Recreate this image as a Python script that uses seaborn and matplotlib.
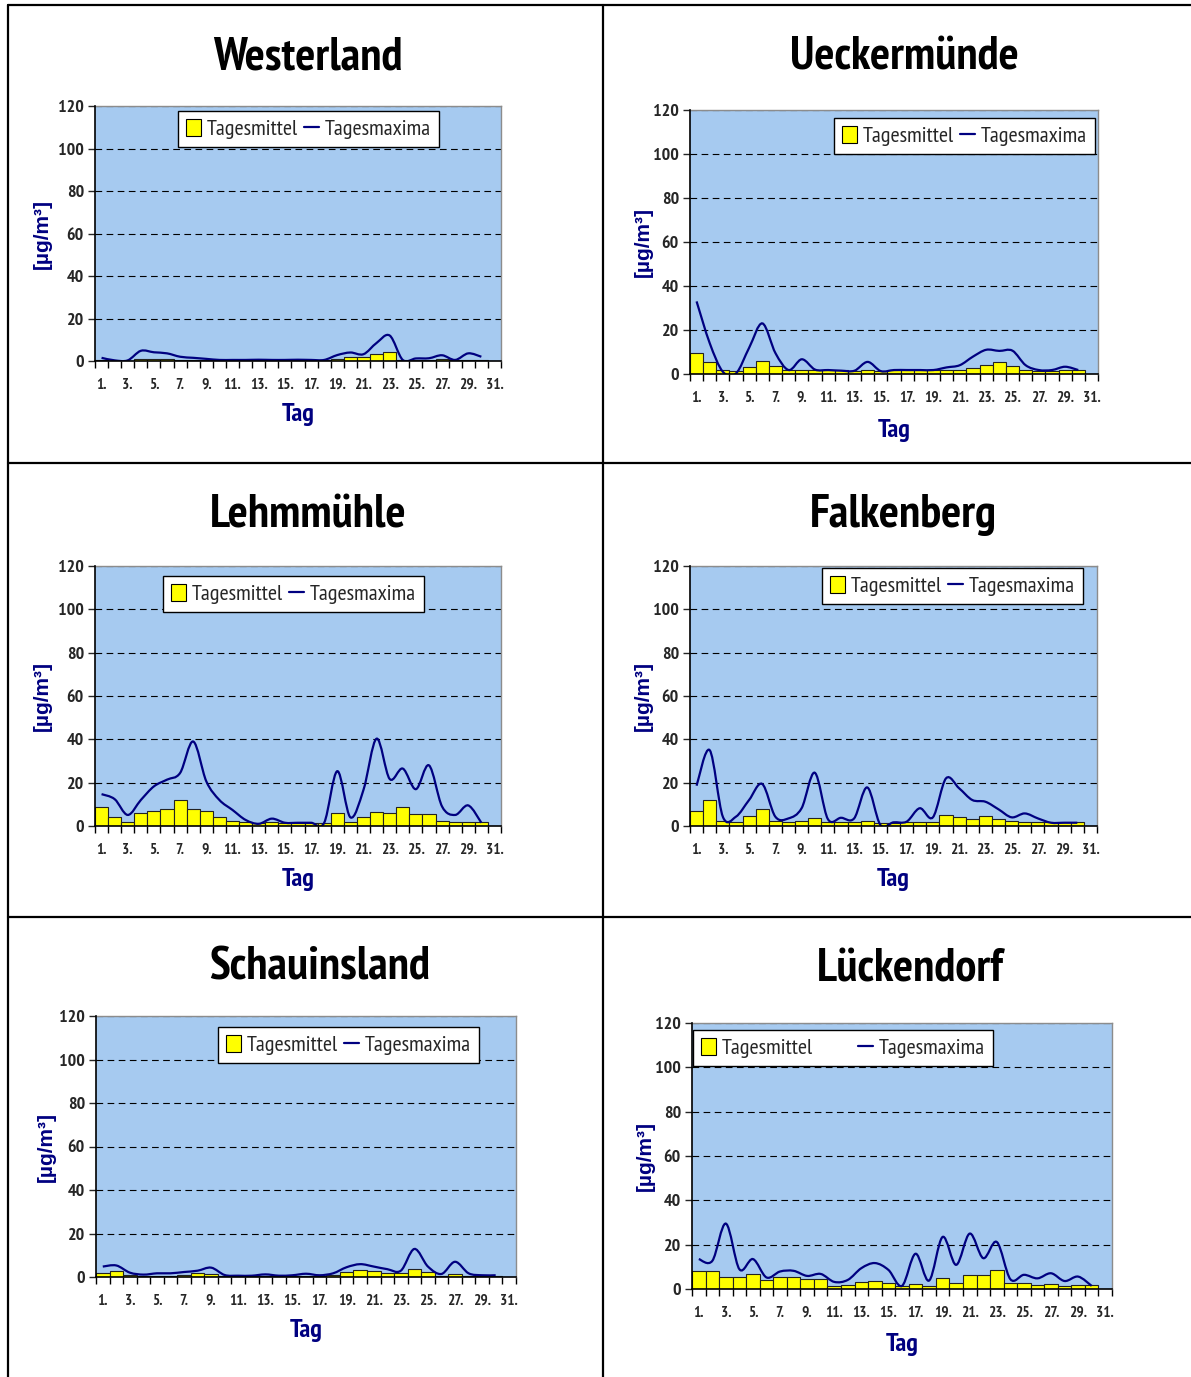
import numpy as np
import seaborn as sns
import matplotlib
matplotlib.use('Agg')
import matplotlib.pyplot as plt
from matplotlib import font_manager
from matplotlib.path import Path
from matplotlib.patches import PathPatch, Patch
from matplotlib.lines import Line2D

# days of the month (31 categories, 30 with data)
tage = [f'{d}.' for d in range(1, 32)]

westerland_mittel = [0.5, 0.2, 0.2, 1, 1, 1, 0.6, 0.6, 0.3, 0.3, 0.3, 0.3, 0.3, 0.3, 0.3,
                     0.3, 0.3, 0.3, 1, 1.7, 1.7, 3.2, 4.1, 0.3, 0.5, 0.5, 0.8, 0.3, 0.5, 0.5]
westerland_maxima = [1.5, 0.3, 0.3, 4.8, 4.1, 3.6, 2, 1.5, 1, 0.5, 0.5, 0.5, 0.6, 0.5, 0.5,
                     0.6, 0.5, 0.5, 2.8, 4, 3.2, 8.5, 12, 0.5, 1.2, 1.3, 2.7, 0.5, 3.6, 2]

ueckermuende_mittel = [9.4, 5.3, 1.8, 1.5, 3, 5.8, 3.6, 2, 1.8, 1.8, 1.8, 1.8, 1.5, 2, 1.5,
                       1.8, 1.8, 1.8, 1.8, 1.8, 1.8, 2.6, 4, 5.3, 3.6, 2, 1.5, 1.5, 1.8, 1.8]
ueckermuende_maxima = [33, 14, 1, 0.3, 12, 23, 9.4, 1.8, 6.7, 2, 1.8, 1.5, 1.5, 5.5, 1.3,
                       1.8, 1.8, 1.8, 1.8, 3, 4, 7.9, 11, 10.5, 10.6, 4, 1.8, 1.8, 3.3, 1.8]

lehmmuehle_mittel = [8.7, 4, 1.7, 5.9, 6.8, 8, 12, 8, 6.8, 4, 2.3, 1.7, 1.2, 2, 1.5,
                     1.5, 1.5, 1.5, 5.9, 1.7, 4.3, 6.4, 5.9, 8.7, 5.7, 5.7, 2.3, 2, 2, 1.7]
lehmmuehle_maxima = [14.7, 12.4, 5.1, 12, 18.3, 21.4, 24.5, 39, 20.6, 12, 7.4, 2.8, 1, 3.4, 1.5,
                     1.5, 1.5, 1.5, 25.3, 4, 16.7, 40.3, 21.7, 26.5, 17, 28, 9, 5.1, 9.5, 1.5]

falkenberg_mittel = [7, 11.8, 2.3, 1.7, 4.5, 7.8, 2.3, 2, 2.3, 3.8, 1.7, 1.7, 1.7, 2.3, 1.5,
                     1.5, 1.8, 2, 2, 5.2, 4, 3, 4.8, 3.4, 2.3, 2, 2, 1.8, 1.8, 1.8]
falkenberg_maxima = [18.6, 35, 4.3, 4.3, 12, 19.4, 4.3, 3.5, 8.2, 24.6, 3.2, 3.8, 3.5, 17.8, 0.5,
                     1.7, 2, 8.2, 4, 22, 17.4, 12, 11.2, 7.7, 4, 5.8, 3.5, 1.5, 1.5, 1.5]

schauinsland_mittel = [2, 2.6, 0.9, 0.6, 0.6, 0.6, 0.9, 2, 1.4, 0.5, 0.5, 0.5, 0.5, 0.5, 0.5,
                       0.5, 0.5, 0.8, 2.5, 3.1, 2.8, 1.9, 1.9, 3.9, 2.5, 0.6, 1.5, 0.6, 0.6, 0.5]
schauinsland_maxima = [4.8, 5.3, 2, 1.1, 1.7, 1.7, 2.3, 2.9, 4.3, 0.9, 0.6, 0.6, 1.2, 0.6, 0.8,
                       1.5, 0.8, 1.7, 4.5, 5.9, 4.8, 3.6, 2.9, 12.9, 4.8, 1.4, 7, 1.7, 0.8, 0.8]

lueckendorf_mittel = [7.9, 7.9, 5.2, 5.6, 6.7, 4.1, 5.6, 5.6, 4.4, 4.4, 1.5, 1.8, 3, 3.5, 2.6,
                      1.4, 2.3, 1.5, 4.8, 2.9, 6.2, 6.2, 8.5, 2.6, 2.6, 1.8, 2.3, 1.5, 2, 1.7]
lueckendorf_maxima = [13.5, 12.7, 29.5, 8.9, 13.5, 5.2, 7.9, 8.2, 5.9, 6.8, 3.2, 4.1, 9.4, 11.7, 8.6,
                      1.4, 15.9, 3.8, 23.5, 10.9, 25, 13.9, 21.2, 4.4, 6.4, 4.8, 7.1, 3.6, 5.6, 1.4]

BG = '#A6CAF0'
NAVY = '#000080'
W, H = 1191, 1377

sns.set_style('ticks')

# pick a narrow Arial-like family that has a real bold face
bold_fams = {f.name for f in font_manager.fontManager.ttflist
             if f.weight >= 700 and f.style == 'normal'}
NARROW = next((n for n in ['Liberation Sans Narrow', 'Arial Narrow', 'Archivo Narrow',
                           'PT Sans Narrow', 'Roboto Condensed', 'Open Sans Condensed',
                           'IBM Plex Sans Condensed', 'Fira Sans Condensed', 'Asap Condensed']
               if n in bold_fams), 'Liberation Sans')
NARROW_FAM = [NARROW, 'DejaVu Sans']
plt.rcParams['font.family'] = ['Liberation Sans', 'DejaVu Sans']

# panel layout in pixels: axes (l, t, r, b), title centre, ylabel x, "Tag" y, legend top-left, column gap
panels = [
    ('Westerland', westerland_mittel, westerland_maxima, (95, 106, 501, 361), (308, 57), 42, 414, (178, 111), 0.25),
    ('Ueckermünde', ueckermuende_mittel, ueckermuende_maxima, (690, 110, 1098, 374), (904, 57), 643, 430, (834, 118), 0.25),
    ('Lehmmühle', lehmmuehle_mittel, lehmmuehle_maxima, (95, 566, 501, 826), (308, 515), 42, 880, (163, 576), 0.25),
    ('Falkenberg', falkenberg_mittel, falkenberg_maxima, (690, 566, 1097, 826), (903, 515), 643, 880, (822, 568), 0.25),
    ('Schauinsland', schauinsland_mittel, schauinsland_maxima, (96, 1016, 516, 1277), (320, 968), 46, 1331, (218, 1027), 0.25),
    ('Lückendorf', lueckendorf_mittel, lueckendorf_maxima, (692, 1023, 1112, 1289), (910, 970), 645, 1344, (693, 1030), 2.0),
]


def smooth_path(y):
    # Excel-like smoothed line: Catmull-Rom segments drawn as cubic Bezier
    pts = np.column_stack([np.arange(len(y)), np.asarray(y, dtype=float)])
    verts = [pts[0]]
    codes = [Path.MOVETO]
    n = len(pts)
    for i in range(n - 1):
        p0 = pts[i - 1] if i > 0 else pts[i]
        p1 = pts[i]
        p2 = pts[i + 1]
        p3 = pts[i + 2] if i + 2 < n else pts[i + 1]
        verts += [p1 + (p2 - p0) / 6, p2 - (p3 - p1) / 6, p2]
        codes += [Path.CURVE4] * 3
    return Path(verts, codes)


fig = plt.figure(figsize=(W / 100, H / 100), dpi=100)

for name, mittel, maxima, (l, t, r, b), (tx, ty), ylx, tagy, (lgx, lgy), colsp in panels:
    ax = fig.add_axes([l / W, 1 - b / H, (r - l) / W, (b - t) / H])
    ax.set_facecolor(BG)
    sns.barplot(x=tage[:len(mittel)], y=mittel, order=tage, color='#FFFF00',
                edgecolor='#222222', linewidth=0.8, width=1.0, saturation=1, ax=ax, zorder=3)
    ax.add_patch(PathPatch(smooth_path(maxima), facecolor='none', edgecolor=NAVY,
                           linewidth=1.6, zorder=4))
    ax.set_xlim(-0.5, 30.5)
    ax.set_ylim(0, 120)
    ax.set_yticks(range(0, 121, 20))
    for yv in range(20, 121, 20):
        ax.axhline(yv, color='black', linewidth=0.8, linestyle=(0, (6, 4)), zorder=1)
    ax.set_xticks(range(0, 31, 2))
    ax.set_xticklabels([tage[i] for i in range(0, 31, 2)])
    ax.set_xticks(np.arange(-0.5, 31, 1), minor=True)
    ax.tick_params(axis='x', which='major', length=0, pad=12)
    ax.tick_params(axis='x', which='minor', length=5, width=1, color='black', direction='out')
    ax.tick_params(axis='y', length=5, width=1, pad=3)
    for lab in ax.get_xticklabels():
        lab.set_fontfamily(NARROW_FAM)
        lab.set_fontweight('bold')
        lab.set_fontsize(11)
    for lab in ax.get_yticklabels():
        lab.set_fontfamily(NARROW_FAM)
        lab.set_fontweight('bold')
        lab.set_fontsize(13)
    ax.set_xlabel('')
    ax.set_ylabel('')
    for side in ('top', 'right'):
        ax.spines[side].set_color('#8C8C8C')
        ax.spines[side].set_linewidth(1)
    for side in ('left', 'bottom'):
        ax.spines[side].set_color('black')
        ax.spines[side].set_linewidth(1.2)
        ax.spines[side].set_zorder(5)

    aw, ah = r - l, b - t
    ax.text((ylx - l) / aw, 0.5, '[µg/m³]', transform=ax.transAxes, rotation=90,
            ha='center', va='center', color=NAVY, fontsize=15, fontweight='bold')
    ax.text(0.5, (b - tagy) / ah, 'Tag', transform=ax.transAxes, ha='center', va='center',
            color=NAVY, fontsize=19, fontweight='bold', family=NARROW_FAM)
    fig.text(tx / W, 1 - ty / H, name, ha='center', va='center', fontsize=34,
             fontweight='bold', color='black', family=NARROW_FAM)

    handles = [Patch(facecolor='#FFFF00', edgecolor='black', linewidth=0.8),
               Line2D([], [], color=NAVY, linewidth=1.6)]
    leg = ax.legend(handles, ['Tagesmittel', 'Tagesmaxima'], ncol=2, loc='upper left',
                    bbox_to_anchor=((lgx - l) / aw, (b - lgy) / ah), borderaxespad=0,
                    frameon=True, fancybox=False, framealpha=1, edgecolor='black',
                    prop={'family': NARROW_FAM, 'size': 16},
                    handlelength=0.7, handleheight=0.8, handletextpad=0.25,
                    columnspacing=colsp, borderpad=0.35)
    leg.get_frame().set_linewidth(1.0)
    leg.set_zorder(6)

# table borders
for (x0, y0, x1, y1) in [(8, 5, 1191, 5), (8, 5, 8, 1377), (603, 5, 603, 1377),
                         (8, 463, 1191, 463), (8, 917, 1191, 917)]:
    fig.add_artist(Line2D([x0 / W, x1 / W], [1 - y0 / H, 1 - y1 / H], color='black',
                          linewidth=1.6, transform=fig.transFigure))

fig.savefig('out.png', dpi=100, facecolor='white')
